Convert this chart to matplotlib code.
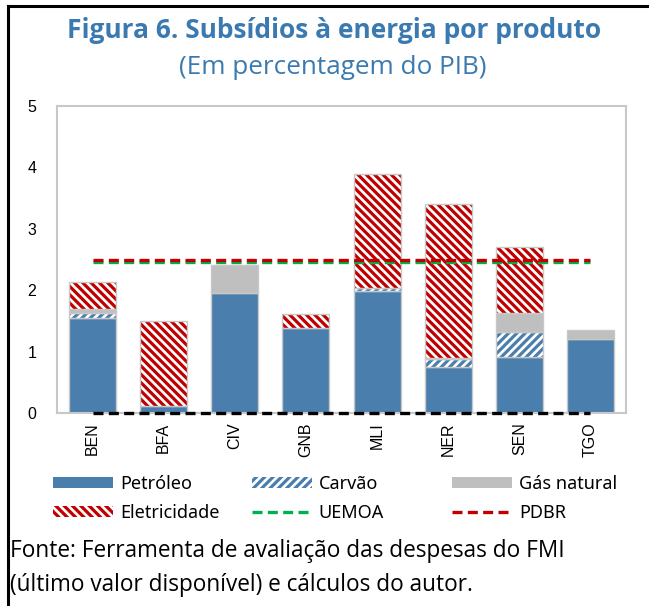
import matplotlib
matplotlib.use('Agg')
import matplotlib.pyplot as plt
from matplotlib.patches import Patch
from matplotlib.lines import Line2D
import numpy as np

# Dados (percentagem do PIB)
paises = ['BEN', 'BFA', 'CIV', 'GNB', 'MLI', 'NER', 'SEN', 'TGO']
petroleo = [1.54, 0.12, 1.96, 1.39, 1.98, 0.75, 0.91, 1.20]
carvao = [0.09, 0.00, 0.00, 0.00, 0.06, 0.13, 0.41, 0.00]
gas_natural = [0.06, 0.00, 0.45, 0.00, 0.00, 0.02, 0.31, 0.15]
eletricidade = [0.44, 1.38, 0.00, 0.23, 1.86, 2.50, 1.08, 0.00]
uemoa = [2.46] * len(paises)
pdbr = [2.49] * len(paises)
zero = [0.0] * len(paises)

azul = '#4A7EAD'
cinza = '#BFBFBF'
vermelho = '#C00000'
verde = '#00B050'
borda = '#C8C8C8'
titulo_cor = '#3B7AB0'
hatch_car = '////'
hatch_ele = '\\\\\\\\'

plt.rcParams['hatch.linewidth'] = 2.3

fig = plt.figure(figsize=(6.49, 6.06), dpi=100)
ax = fig.add_axes([57 / 649, 1 - 413 / 606, (626 - 57) / 649, (413 - 106) / 606])

x = np.arange(len(paises))
w = 0.66
base = np.zeros(len(paises))


def empilhar(vals, cor, hatch=None):
    global base
    vals = np.array(vals)
    m = vals > 0
    if hatch is None:
        ax.bar(x[m], vals[m], w, bottom=base[m], color=cor,
               edgecolor=borda, linewidth=1, zorder=2)
    else:
        ax.bar(x[m], vals[m], w, bottom=base[m], facecolor='white',
               edgecolor=cor, hatch=hatch, linewidth=0, zorder=2)
        ax.bar(x[m], vals[m], w, bottom=base[m], fill=False,
               edgecolor=borda, linewidth=1, zorder=2)
    base = base + vals


empilhar(petroleo, azul)
empilhar(carvao, azul, hatch_car)
empilhar(gas_natural, cinza)
empilhar(eletricidade, vermelho, hatch_ele)

ax.plot(x, uemoa, color=verde, lw=2.4, dashes=(3, 1.6), zorder=3)
ax.plot(x, pdbr, color=vermelho, lw=2.4, dashes=(3, 1.6), zorder=3)
ax.plot(x, zero, color='black', lw=2.4, dashes=(3, 1.6), zorder=3, clip_on=False)

ax.set_xlim(-0.5, len(paises) - 0.5)
ax.set_ylim(0, 5)
ax.set_yticks(range(0, 6))
ax.set_xticks(x)
ax.set_xticklabels(paises, rotation=90)
for lab in ax.get_xticklabels() + ax.get_yticklabels():
    lab.set_fontfamily('Liberation Sans')
    lab.set_fontsize(11.5)
ax.tick_params(axis='both', length=0)
ax.tick_params(axis='y', pad=15)
ax.tick_params(axis='x', pad=7)
for s in ax.spines.values():
    s.set_color(borda)
    s.set_linewidth(1.5)

# Títulos
fig.text(334 / 649, 1 - 30 / 606, 'Figura 6. Subsídios à energia por produto',
         ha='center', va='center', fontsize=19, fontweight='bold',
         color=titulo_cor, family='Open Sans')
fig.text(333 / 649, 1 - 67 / 606, '(Em percentagem do PIB)',
         ha='center', va='center', fontsize=18.8, color=titulo_cor,
         family='Open Sans')

# Legenda em três colunas
h_pet = Patch(facecolor=azul, linewidth=0)
h_ele = Patch(facecolor='white', edgecolor=vermelho, hatch=hatch_ele, linewidth=0)
h_car = Patch(facecolor='white', edgecolor=azul, hatch=hatch_car, linewidth=0)
h_uem = Line2D([], [], color=verde, lw=2.4, dashes=(3, 1.6))
h_gas = Patch(facecolor=cinza, linewidth=0)
h_pdb = Line2D([], [], color=vermelho, lw=2.4, dashes=(3, 1.6))
colunas = [([h_pet, h_ele], ['Petróleo', 'Eletricidade'], 53),
           ([h_car, h_uem], ['Carvão', 'UEMOA'], 252),
           ([h_gas, h_pdb], ['Gás natural', 'PDBR'], 452)]
for hs, ls, xp in colunas:
    fig.legend(hs, ls, loc='upper left', bbox_to_anchor=(xp / 649, 1 - 475 / 606),
               frameon=False, borderpad=0, borderaxespad=0, handlelength=3.3,
               handleheight=0.6, handletextpad=0.4, labelspacing=0.6,
               prop={'family': 'Noto Sans', 'size': 13})

# Fonte
fig.text(10 / 649, 1 - 551 / 606, 'Fonte: Ferramenta de avaliação das despesas do FMI',
         ha='left', va='center', fontsize=16.3, family='Open Sans')
fig.text(10 / 649, 1 - 585 / 606, '(último valor disponível) e cálculos do autor.',
         ha='left', va='center', fontsize=16.3, family='Open Sans')

# Moldura
fig.add_artist(Line2D([8 / 649, 648 / 649], [1 - 6 / 606, 1 - 6 / 606],
                      color='black', lw=2.2, transform=fig.transFigure))
fig.add_artist(Line2D([8 / 649, 8 / 649], [1 - 6 / 606, 0],
                      color='black', lw=2.2, transform=fig.transFigure))

fig.savefig('out.png', dpi=100)
